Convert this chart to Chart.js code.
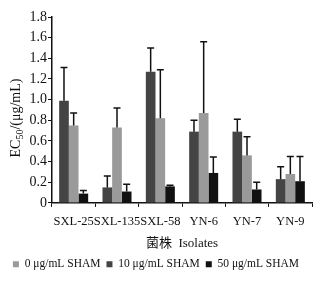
<!DOCTYPE html>
<html><head><meta charset="utf-8">
<script src="https://cdn.jsdelivr.net/npm/chart.js@4"></script>
<style>html,body{margin:0;padding:0;background:#fff}#wrap{width:336px;height:281px}</style>
</head><body><div id="wrap"><canvas id="c" width="336" height="281"></canvas></div>
<script>
const categories = ["SXL-25", "SXL-135", "SXL-58", "YN-6", "YN-7", "YN-9"];
const seriesNames = ["10 μg/mL SHAM", "0 μg/mL SHAM", "50 μg/mL SHAM"];
const sham10 = [0.99, 0.15, 1.27, 0.69, 0.69, 0.23];
const sham10Err = [0.32, 0.11, 0.23, 0.11, 0.12, 0.12];
const sham0 = [0.75, 0.73, 0.82, 0.87, 0.46, 0.28];
const sham0Err = [0.12, 0.19, 0.47, 0.69, 0.18, 0.17];
const sham50 = [0.09, 0.11, 0.16, 0.29, 0.13, 0.21];
const sham50Err = [0.03, 0.07, 0.01, 0.155, 0.07, 0.24];
const yTicks = [0, 0.2, 0.4, 0.6, 0.8, 1.0, 1.2, 1.4, 1.6, 1.8];

const serif = "'Liberation Serif', 'Times New Roman', serif";
Chart.defaults.font.family = serif;
Chart.defaults.color = '#111';
const errs = [sham10Err, sham0Err, sham50Err];
const legendOrder = [1, 0, 2];

const errorBars = {
  id: 'errorBars',
  afterDatasetsDraw(chart) {
    const ctx = chart.ctx, ys = chart.scales.y;
    ctx.save();
    ctx.strokeStyle = '#111';
    ctx.lineWidth = 1.5;
    chart.data.datasets.forEach((ds, i) => {
      const meta = chart.getDatasetMeta(i);
      meta.data.forEach((bar, j) => {
        const top = ys.getPixelForValue(ds.data[j] + errs[i][j]);
        ctx.beginPath();
        ctx.moveTo(bar.x, bar.y);
        ctx.lineTo(bar.x, top);
        ctx.moveTo(bar.x - 3.5, top);
        ctx.lineTo(bar.x + 3.5, top);
        ctx.stroke();
      });
    });
    ctx.restore();
  }
};

const yTitle = {
  id: 'yTitle',
  afterDraw(chart) {
    const ctx = chart.ctx;
    ctx.save();
    ctx.translate(16, 118);
    ctx.rotate(-Math.PI / 2);
    ctx.fillStyle = '#111';
    ctx.textBaseline = 'middle';
    const big = "14px " + serif, small = "10px " + serif;
    const parts = [["EC", big, 0], ["50", small, 4], ["/(μg/mL)", big, 0]];
    let w = 0;
    parts.forEach(p => { ctx.font = p[1]; w += ctx.measureText(p[0]).width; });
    let x = -w / 2;
    parts.forEach(p => {
      ctx.font = p[1];
      ctx.fillText(p[0], x, p[2]);
      x += ctx.measureText(p[0]).width;
    });
    ctx.restore();
  }
};

new Chart(document.getElementById('c'), {
  type: 'bar',
  data: {
    labels: categories,
    datasets: [
      { label: seriesNames[0], data: sham10, backgroundColor: '#444444' },
      { label: seriesNames[1], data: sham0, backgroundColor: '#9a9a9a' },
      { label: seriesNames[2], data: sham50, backgroundColor: '#111111' }
    ]
  },
  options: {
    responsive: false,
    animation: false,
    layout: { padding: { top: 17, right: 24, left: 0, bottom: 1 } },
    datasets: { bar: { categoryPercentage: 0.67, barPercentage: 1.0 } },
    scales: {
      x: {
        grid: { display: true, drawOnChartArea: false, offset: true, color: '#111', tickLength: 4, lineWidth: 1 },
        border: { color: '#111', width: 1.5 },
        ticks: { color: '#111', font: { family: serif, size: 12.5 }, autoSkip: false, maxRotation: 0, minRotation: 0, padding: 7 },
        title: { display: true, text: '菌株  Isolates', color: '#111', font: { family: "'Liberation Serif', 'Noto Sans CJK SC', serif", size: 13 }, padding: { top: 0, bottom: 1 } }
      },
      y: {
        min: 0, max: 1.8,
        afterBuildTicks(scale) { scale.ticks = yTicks.map(v => ({ value: v })); },
        afterFit(scale) { scale.width = 52; },
        grid: { display: true, drawOnChartArea: false, color: '#111', tickLength: 4 },
        border: { color: '#111', width: 1.5 },
        ticks: { color: '#111', font: { family: serif, size: 14 }, padding: 1, autoSkip: false,
          callback: v => v === 0 ? '0' : Number(v).toFixed(1) }
      }
    },
    plugins: {
      legend: {
        position: 'bottom',
        labels: {
          color: '#111', boxWidth: 6, boxHeight: 6, padding: 6,
          font: { family: serif, size: 11.5 },
          sort: (a, b) => legendOrder.indexOf(a.datasetIndex) - legendOrder.indexOf(b.datasetIndex)
        }
      },
      tooltip: { enabled: false }
    }
  },
  plugins: [errorBars, yTitle]
});
</script>
</body></html>
